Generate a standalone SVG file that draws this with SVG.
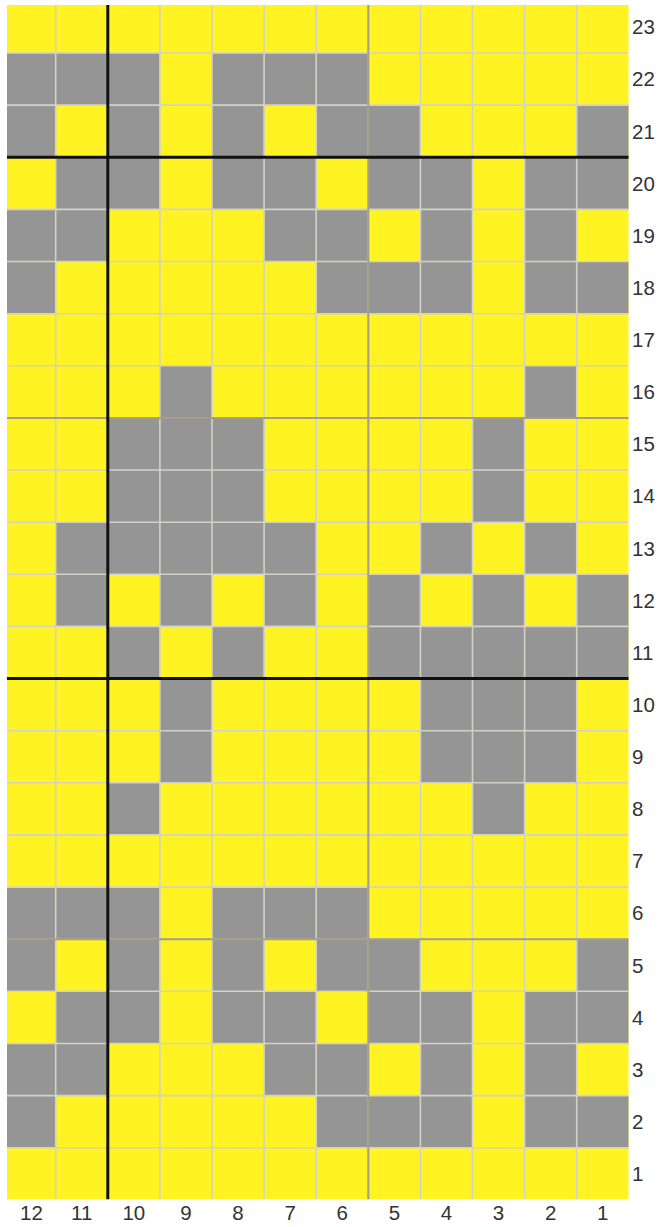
<svg xmlns="http://www.w3.org/2000/svg" width="664" height="1227" viewBox="0 0 664 1227">
<style>
.y{fill:#fff324}
.g{fill:#959595}
.thin{stroke:#d2d2c6;stroke-width:1.6;fill:none}
.mid{stroke:#a39f88;stroke-width:2;fill:none}
.thick{stroke:#111;stroke-width:3;fill:none}
.lbl{font-family:"Liberation Sans",Arial,sans-serif;font-size:20.5px;fill:#333}
.cl{text-anchor:middle}
</style>
<rect width="664" height="1227" fill="#ffffff"/>
<g id="cells">
<rect class="y" x="7" y="5" width="621.5" height="1194.3"/>
<!-- row 22 -->
<rect class="g" x="7" y="53" width="152.9" height="52.2"/>
<rect class="g" x="212" y="53" width="156.3" height="52.2"/>
<!-- row 21 -->
<rect class="g" x="7" y="105.1" width="48.7" height="52.2"/>
<rect class="g" x="107.8" y="105.1" width="52.1" height="52.2"/>
<rect class="g" x="212" y="105.1" width="52.1" height="52.2"/>
<rect class="g" x="316.2" y="105.1" width="104.2" height="52.2"/>
<rect class="g" x="576.7" y="105.1" width="51.8" height="52.2"/>
<!-- row 20 -->
<rect class="g" x="55.7" y="157.3" width="104.2" height="52.2"/>
<rect class="g" x="212" y="157.3" width="104.2" height="52.2"/>
<rect class="g" x="368.3" y="157.3" width="104.2" height="52.2"/>
<rect class="g" x="524.6" y="157.3" width="103.9" height="52.2"/>
<!-- row 19 -->
<rect class="g" x="7" y="209.4" width="100.8" height="52.2"/>
<rect class="g" x="264.1" y="209.4" width="104.2" height="52.2"/>
<rect class="g" x="420.4" y="209.4" width="52.1" height="52.2"/>
<rect class="g" x="524.6" y="209.4" width="52.1" height="52.2"/>
<!-- row 18 -->
<rect class="g" x="7" y="261.5" width="48.7" height="52.2"/>
<rect class="g" x="316.2" y="261.5" width="156.3" height="52.2"/>
<rect class="g" x="524.6" y="261.5" width="103.9" height="52.2"/>
<!-- row 16 -->
<rect class="g" x="159.9" y="365.8" width="52.1" height="52.2"/>
<rect class="g" x="524.6" y="365.8" width="52.1" height="52.2"/>
<!-- row 15 -->
<rect class="g" x="107.8" y="417.9" width="156.3" height="52.2"/>
<rect class="g" x="472.5" y="417.9" width="52.1" height="52.2"/>
<!-- row 14 -->
<rect class="g" x="107.8" y="470" width="156.3" height="52.2"/>
<rect class="g" x="472.5" y="470" width="52.1" height="52.2"/>
<!-- row 13 -->
<rect class="g" x="55.7" y="522.2" width="260.5" height="52.2"/>
<rect class="g" x="420.4" y="522.2" width="52.1" height="52.2"/>
<rect class="g" x="524.6" y="522.2" width="52.1" height="52.2"/>
<!-- row 12 -->
<rect class="g" x="55.7" y="574.3" width="52.1" height="52.2"/>
<rect class="g" x="159.9" y="574.3" width="52.1" height="52.2"/>
<rect class="g" x="264.1" y="574.3" width="52.1" height="52.2"/>
<rect class="g" x="368.3" y="574.3" width="52.1" height="52.2"/>
<rect class="g" x="472.5" y="574.3" width="52.1" height="52.2"/>
<rect class="g" x="576.7" y="574.3" width="51.8" height="52.2"/>
<!-- row 11 -->
<rect class="g" x="107.8" y="626.4" width="52.1" height="52.2"/>
<rect class="g" x="212" y="626.4" width="52.1" height="52.2"/>
<rect class="g" x="368.3" y="626.4" width="260.2" height="52.2"/>
<!-- row 10 -->
<rect class="g" x="159.9" y="678.6" width="52.1" height="52.2"/>
<rect class="g" x="420.4" y="678.6" width="156.3" height="52.2"/>
<!-- row 9 -->
<rect class="g" x="159.9" y="730.7" width="52.1" height="52.2"/>
<rect class="g" x="420.4" y="730.7" width="156.3" height="52.2"/>
<!-- row 8 -->
<rect class="g" x="107.8" y="782.8" width="52.1" height="52.2"/>
<rect class="g" x="472.5" y="782.8" width="52.1" height="52.2"/>
<!-- row 6 -->
<rect class="g" x="7" y="887.1" width="152.9" height="52.2"/>
<rect class="g" x="212" y="887.1" width="156.3" height="52.2"/>
<!-- row 5 -->
<rect class="g" x="7" y="939.2" width="48.7" height="52.2"/>
<rect class="g" x="107.8" y="939.2" width="52.1" height="52.2"/>
<rect class="g" x="212" y="939.2" width="52.1" height="52.2"/>
<rect class="g" x="316.2" y="939.2" width="104.2" height="52.2"/>
<rect class="g" x="576.7" y="939.2" width="51.8" height="52.2"/>
<!-- row 4 -->
<rect class="g" x="55.7" y="991.3" width="104.2" height="52.2"/>
<rect class="g" x="212" y="991.3" width="104.2" height="52.2"/>
<rect class="g" x="368.3" y="991.3" width="104.2" height="52.2"/>
<rect class="g" x="524.6" y="991.3" width="103.9" height="52.2"/>
<!-- row 3 -->
<rect class="g" x="7" y="1043.5" width="100.8" height="52.2"/>
<rect class="g" x="264.1" y="1043.5" width="104.2" height="52.2"/>
<rect class="g" x="420.4" y="1043.5" width="52.1" height="52.2"/>
<rect class="g" x="524.6" y="1043.5" width="52.1" height="52.2"/>
<!-- row 2 -->
<rect class="g" x="7" y="1095.6" width="48.7" height="52.1"/>
<rect class="g" x="316.2" y="1095.6" width="156.3" height="52.1"/>
<rect class="g" x="524.6" y="1095.6" width="103.9" height="52.1"/>
</g>
<g id="gridlines">
<path class="thin" d="M55.7 5V1199.3M107.8 5V1199.3M159.9 5V1199.3M212 5V1199.3M264.1 5V1199.3M316.2 5V1199.3M368.3 5V1199.3M420.4 5V1199.3M472.5 5V1199.3M524.6 5V1199.3M576.7 5V1199.3"/>
<path class="thin" d="M7 53H628.5M7 105.1H628.5M7 157.3H628.5M7 209.4H628.5M7 261.5H628.5M7 313.7H628.5M7 365.8H628.5M7 417.9H628.5M7 470H628.5M7 522.2H628.5M7 574.3H628.5M7 626.4H628.5M7 678.6H628.5M7 730.7H628.5M7 782.8H628.5M7 834.9H628.5M7 887.1H628.5M7 939.2H628.5M7 991.3H628.5M7 1043.5H628.5M7 1095.6H628.5M7 1147.7H628.5"/>
<path class="mid" d="M368.3 5V1199.3M7 417.9H628.5M7 939.2H628.5"/>
<path class="thick" d="M107.8 5V1199.3M7 157.3H628.5M7 678.6H628.5"/>
</g>
<g id="row-labels" class="lbl">
<text x="632" y="34.2">23</text>
<text x="632" y="86.3">22</text>
<text x="632" y="138.5">21</text>
<text x="632" y="190.6">20</text>
<text x="632" y="242.7">19</text>
<text x="632" y="294.9">18</text>
<text x="632" y="347">17</text>
<text x="632" y="399.1">16</text>
<text x="632" y="451.2">15</text>
<text x="632" y="503.4">14</text>
<text x="632" y="555.5">13</text>
<text x="632" y="607.6">12</text>
<text x="632" y="659.8">11</text>
<text x="632" y="711.9">10</text>
<text x="632" y="764">9</text>
<text x="632" y="816.2">8</text>
<text x="632" y="868.3">7</text>
<text x="632" y="920.4">6</text>
<text x="632" y="972.5">5</text>
<text x="632" y="1024.7">4</text>
<text x="632" y="1076.8">3</text>
<text x="632" y="1128.9">2</text>
<text x="632" y="1180.5">1</text>
</g>
<g id="col-labels" class="lbl cl">
<text x="31.5" y="1220">12</text>
<text x="81.75" y="1220">11</text>
<text x="133.85" y="1220">10</text>
<text x="185.95" y="1220">9</text>
<text x="238.05" y="1220">8</text>
<text x="290.15" y="1220">7</text>
<text x="342.25" y="1220">6</text>
<text x="394.35" y="1220">5</text>
<text x="446.45" y="1220">4</text>
<text x="498.55" y="1220">3</text>
<text x="550.65" y="1220">2</text>
<text x="602.6" y="1220">1</text>
</g>
</svg>
